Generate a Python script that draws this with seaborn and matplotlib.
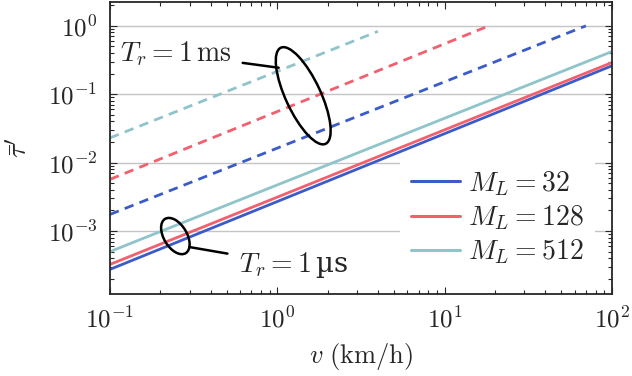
import numpy as np
import pandas as pd
import matplotlib
matplotlib.use("Agg")
import matplotlib.pyplot as plt
import seaborn as sns
from matplotlib.patches import Ellipse
from matplotlib.transforms import ScaledTranslation
from matplotlib.ticker import LogLocator, FuncFormatter, NullFormatter

# ----------------------
# Data
# ----------------------
modulation_orders = [32, 128, 512]
colors = ["#3b5cc8", "#f2606e", "#8fc4ca"]

# T_r = 1 us (solid)
v_1us = [0.1, 100]
tau_1us = {
    32: [2.75e-4, 0.26],
    128: [3.25e-4, 0.29],
    512: [5.0e-4, 0.42],
}

# T_r = 1 ms (dashed, stop near tau = 1)
v_1ms = {
    32: [0.1, 70],
    128: [0.1, 17.5],
    512: [0.1, 4.0],
}
tau_1ms = {
    32: [1.75e-3, 1.0],
    128: [5.7e-3, 0.95],
    512: [0.023, 0.83],
}

# ----------------------
# Style
# ----------------------
sns.set_style("ticks")
plt.rcParams["font.family"] = ["DejaVu Serif"]
plt.rcParams["mathtext.fontset"] = "cm"
plt.rcParams["font.size"] = 19

fig = plt.figure(figsize=(6.32, 3.76), dpi=100)
ax = fig.add_axes([0.174, 0.218, 0.794, 0.777])

for ml, c in zip(modulation_orders, colors):
    df = pd.DataFrame({"v": v_1us, "tau": tau_1us[ml]})
    sns.lineplot(data=df, x="v", y="tau", ax=ax, color=c, lw=2.0,
                 label=rf"$M_L = {ml}$")
    df2 = pd.DataFrame({"v": v_1ms[ml], "tau": tau_1ms[ml]})
    sns.lineplot(data=df2, x="v", y="tau", ax=ax, color=c, lw=2.0,
                 dashes=False, legend=False)
    ax.lines[-1].set_dashes((3.4, 2.3))

ax.set_xscale("log")
ax.set_yscale("log")
ax.set_xlim(0.1, 100)
ax.set_ylim(1.2e-4, 2.24)

# ticks
fmt = FuncFormatter(lambda val, pos: r"$10^{%d}$" % int(round(np.log10(val))))
ax.xaxis.set_major_locator(LogLocator(base=10, numticks=10))
ax.yaxis.set_major_locator(LogLocator(base=10, numticks=10))
ax.xaxis.set_major_formatter(fmt)
ax.yaxis.set_major_formatter(fmt)
ax.xaxis.set_minor_locator(LogLocator(base=10, subs=np.arange(2, 10), numticks=20))
ax.yaxis.set_minor_locator(LogLocator(base=10, subs=np.arange(2, 10), numticks=20))
ax.xaxis.set_minor_formatter(NullFormatter())
ax.yaxis.set_minor_formatter(NullFormatter())
ax.tick_params(which="both", direction="in", top=True, right=True, width=0.8)
ax.tick_params(which="major", length=5, labelsize=18, pad=9)
ax.tick_params(which="minor", length=3)
for s in ax.spines.values():
    s.set_linewidth(1.3)

ax.yaxis.grid(True, which="major", color="#c4c4c4", lw=1.0)
ax.xaxis.grid(False)
ax.set_axisbelow(True)

ax.set_xlabel(r"$v\ \mathrm{(km/h)}$", fontsize=19, labelpad=6)
ax.set_ylabel(r"$\bar{\tau}'$", fontsize=20, labelpad=10)

# ----------------------
# Annotations: ellipses + labels
# ----------------------
def add_ellipse(x, y, w, h, angle):
    tr = fig.dpi_scale_trans + ScaledTranslation(x, y, ax.transData)
    e = Ellipse((0, 0), width=w, height=h, angle=angle, transform=tr,
                fill=False, lw=1.8, color="black", zorder=5)
    ax.add_patch(e)

add_ellipse(1.43, 0.095, 1.06, 0.35, -65)
add_ellipse(0.246, 8.45e-4, 0.40, 0.23, -59)

ax.annotate(r"$T_r = 1\,\mathrm{ms}$", xy=(1.02, 0.244), xytext=(0.53, 0.39),
            ha="right", va="center", fontsize=20,
            arrowprops=dict(arrowstyle="-", lw=1.8, color="black",
                            shrinkA=6, shrinkB=0))
ax.annotate(r"$T_r = 1\,$µs", xy=(0.298, 5.84e-4), xytext=(0.59, 3.19e-4),
            ha="left", va="center", fontsize=20,
            arrowprops=dict(arrowstyle="-", lw=1.8, color="black",
                            shrinkA=6, shrinkB=0))

leg = ax.legend(loc="lower right", fontsize=20, frameon=True, framealpha=1,
                edgecolor="none", facecolor="white", handlelength=1.75,
                handletextpad=0.3, labelspacing=0.2, borderaxespad=0.6,
                fancybox=False)
for line in leg.get_lines():
    line.set_linewidth(2.2)

fig.savefig("out.png", dpi=100)
